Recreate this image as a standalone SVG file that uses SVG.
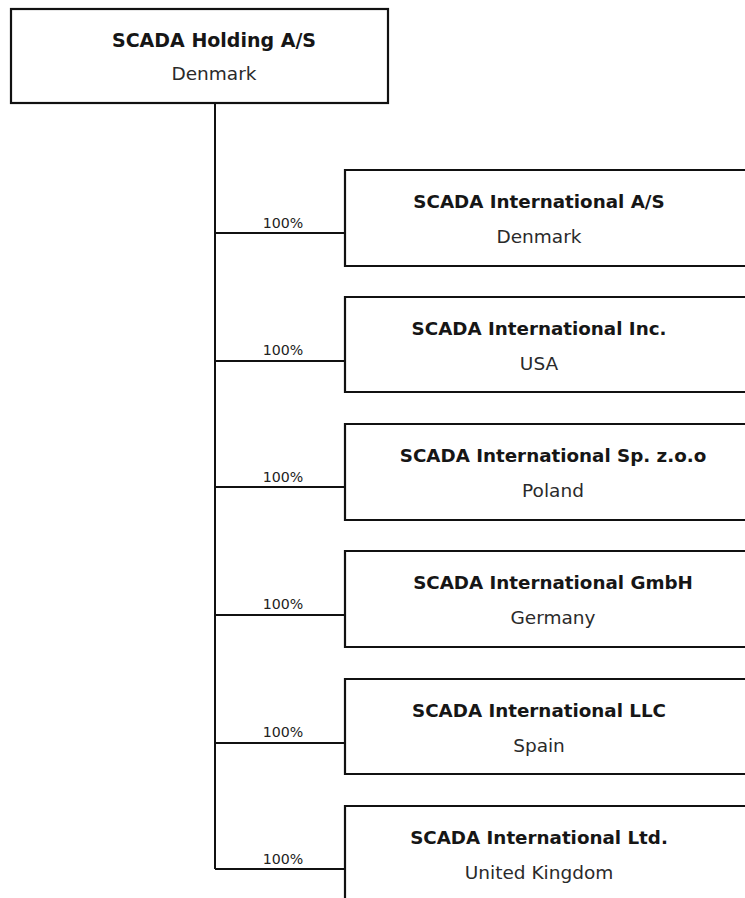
<svg xmlns="http://www.w3.org/2000/svg" width="745" height="898" viewBox="0 0 745 898">
<style>
.box{fill:#fff;stroke:#111;stroke-width:2.2}
.t{font-family:"DejaVu Sans",sans-serif;font-weight:bold;font-size:18.3px;fill:#161616;text-anchor:middle}
.s{font-family:"DejaVu Sans",sans-serif;font-size:18.5px;fill:#2a2a2a;text-anchor:middle}
.p{font-family:"DejaVu Sans",sans-serif;font-size:14.2px;fill:#222;text-anchor:middle}
.c{stroke:#111;stroke-width:2;fill:none}
</style>
<rect width="745" height="898" fill="#fff"/>
<g id="connectors">
<path class="c" d="M215 103V869"/>
<path class="c" d="M215 233H345M215 361H345M215 487H345M215 615H345M215 743H345M215 869H345"/>
<text class="p" x="283" y="228">100%</text>
<text class="p" x="283" y="355">100%</text>
<text class="p" x="283" y="482">100%</text>
<text class="p" x="283" y="609">100%</text>
<text class="p" x="283" y="737">100%</text>
<text class="p" x="283" y="864">100%</text>
</g>
<g id="holding">
<rect class="box" x="11" y="9" width="377" height="94"/>
<text class="t" x="214" y="47" style="font-size:19px">SCADA Holding A/S</text>
<text class="s" x="214" y="80">Denmark</text>
</g>
<g id="n1">
<path class="box" d="M750 170H345V266H750"/>
<text class="t" x="539" y="208">SCADA International A/S</text>
<text class="s" x="539" y="243">Denmark</text>
</g>
<g id="n2">
<path class="box" d="M750 297H345V392H750"/>
<text class="t" x="539" y="335">SCADA International Inc.</text>
<text class="s" x="539" y="370">USA</text>
</g>
<g id="n3">
<path class="box" d="M750 424H345V520H750"/>
<text class="t" x="553" y="462">SCADA International Sp. z.o.o</text>
<text class="s" x="553" y="497">Poland</text>
</g>
<g id="n4">
<path class="box" d="M750 551H345V647H750"/>
<text class="t" x="553" y="589">SCADA International GmbH</text>
<text class="s" x="553" y="624">Germany</text>
</g>
<g id="n5">
<path class="box" d="M750 679H345V774H750"/>
<text class="t" x="539" y="717">SCADA International LLC</text>
<text class="s" x="539" y="752">Spain</text>
</g>
<g id="n6">
<path class="box" d="M750 806H345V900"/>
<text class="t" x="539" y="844">SCADA International Ltd.</text>
<text class="s" x="539" y="879">United Kingdom</text>
</g>
</svg>
